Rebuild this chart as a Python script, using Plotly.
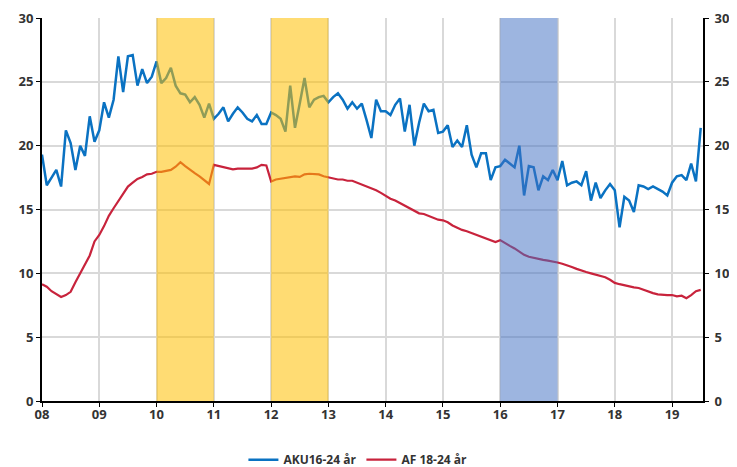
import plotly.graph_objects as go

start_year = 2008
aku_16_24 = [19.3, 16.9, 17.5, 18.1, 16.8, 21.2, 20.2, 18.1, 20.0, 19.2, 22.3, 20.3,
             21.2, 23.4, 22.2, 23.6, 27.0, 24.2, 27.0, 27.1, 24.7, 26.0, 24.9, 25.4,
             26.6, 24.9, 25.3, 26.1, 24.7, 24.1, 24.0, 23.4, 23.8, 23.2, 22.2, 23.3,
             22.1, 22.5, 23.0, 21.9, 22.5, 23.0, 22.6, 22.1, 21.9, 22.4, 21.7, 21.7,
             22.6, 22.4, 22.1, 21.1, 24.7, 21.4, 23.3, 25.3, 23.0, 23.6, 23.8, 23.9,
             23.4, 23.8, 24.1, 23.6, 22.9, 23.4, 22.9, 23.3, 22.0, 20.6, 23.6, 22.7,
             22.7, 22.4, 23.2, 23.7, 21.1, 23.2, 20.0, 21.8, 23.3, 22.7, 22.8, 21.0,
             21.1, 21.6, 19.9, 20.4, 19.9, 21.6, 19.3, 18.3, 19.4, 19.4, 17.3, 18.3,
             18.4, 18.9, 18.6, 18.3, 20.0, 16.1, 18.4, 18.3, 16.5, 17.6, 17.3, 18.1,
             17.3, 18.8, 16.9, 17.1, 17.2, 16.9, 18.0, 15.7, 17.1, 15.9, 16.5, 17.0,
             16.5, 13.6, 16.0, 15.7, 14.8, 16.9, 16.8, 16.6, 16.8, 16.6, 16.4, 16.1,
             17.1, 17.6, 17.7, 17.3, 18.6, 17.2, 21.4]
af_18_24 = [9.15, 8.95, 8.6, 8.35, 8.15, 8.3, 8.55, 9.3, 10.0, 10.6, 11.4, 12.5,
            13.0, 13.7, 14.5, 15.1, 15.7, 16.3, 16.8, 17.1, 17.4, 17.55, 17.75, 17.8,
            17.95, 17.95, 18.0, 18.1, 18.35, 18.7, 18.4, 18.1, 17.85, 17.6, 17.3, 17.0,
            18.5, 18.4, 18.3, 18.2, 18.15, 18.2, 18.2, 18.25, 18.2, 18.3, 18.5, 18.45,
            17.2, 17.35, 17.4, 17.5, 17.55, 17.6, 17.55, 17.75, 17.8, 17.8, 17.75, 17.6,
            17.5, 17.4, 17.35, 17.35, 17.25, 17.25, 17.1, 17.0, 16.8, 16.65, 16.5, 16.3,
            16.05, 15.85, 15.7, 15.5, 15.3, 15.1, 14.85, 14.7, 14.65, 14.5, 14.35, 14.2,
            14.15, 14.0, 13.75, 13.55, 13.4, 13.3, 13.15, 13.0, 12.85, 12.7, 12.55, 12.45,
            12.6, 12.35, 12.15, 11.95, 11.7, 11.45, 11.3, 11.2, 11.15, 11.05, 11.0, 10.95,
            10.85, 10.75, 10.65, 10.5, 10.35, 10.2, 10.1, 10.0, 9.9, 9.8, 9.7, 9.5,
            9.25, 9.15, 9.05, 9.0, 8.9, 8.85, 8.7, 8.6, 8.45, 8.35, 8.3, 8.3,
            8.3, 8.2, 8.25, 8.05, 8.3, 8.6, 8.7]
x_months = [start_year + i / 12 for i in range(len(aku_16_24))]

tick_years = list(range(2008, 2020))
tick_labels = ["08", "09", "10", "11", "12", "13", "14", "15", "16", "17", "18", "19"]
y_ticks = [0, 5, 10, 15, 20, 25, 30]

yellow_periods = [(2010, 2011), (2012, 2013)]
blue_periods = [(2016, 2017)]

fig = go.Figure()
fig.add_trace(go.Scatter(x=x_months, y=aku_16_24, mode="lines", name="AKU16-24 år",
                         line=dict(color="#0A72C2", width=2.5)))
fig.add_trace(go.Scatter(x=x_months, y=af_18_24, mode="lines", name="AF 18-24 år",
                         line=dict(color="#C8233C", width=2.2)))
fig.add_trace(go.Scatter(x=[None], y=[None], yaxis="y2", showlegend=False, hoverinfo="skip"))

for a, b in yellow_periods:
    fig.add_shape(type="rect", xref="x", yref="y", x0=a, x1=b, y0=0, y1=30,
                  fillcolor="rgba(255,192,0,0.55)", line_width=0, layer="above")
for a, b in blue_periods:
    fig.add_shape(type="rect", xref="x", yref="y", x0=a, x1=b, y0=0, y1=30,
                  fillcolor="rgba(68,114,196,0.52)", line_width=0, layer="above")

tickfont = dict(family="Open Sans, Liberation Sans, sans-serif", size=13, color="#333333", weight="bold")
fig.update_layout(
    width=729, height=459,
    margin=dict(l=34, r=34, t=10, b=66),
    plot_bgcolor="white", paper_bgcolor="white",
    showlegend=True,
    legend=dict(orientation="h", x=0.48, xanchor="center", xref="container",
                y=0.016, yanchor="middle", yref="container",
                font=dict(family="Open Sans, Liberation Sans, sans-serif", size=12, color="#333333", weight="bold"),
                itemwidth=30, tracegroupgap=0),
    xaxis=dict(range=[2008, 2019.54], tickmode="array", tickvals=tick_years, ticktext=tick_labels,
               showgrid=True, gridcolor="#D9D9D9", gridwidth=1.5, automargin=False,
               showline=True, linecolor="black", linewidth=2, ticklabelstandoff=-4,
               ticks="outside", ticklen=4, tickcolor="black", tickfont=tickfont, zeroline=False),
    yaxis=dict(range=[0, 30], tickvals=y_ticks, showgrid=True, gridcolor="#D9D9D9", gridwidth=1.5,
               showline=True, linecolor="black", linewidth=2, ticks="outside", ticklen=4, automargin=False,
               tickcolor="black", tickfont=tickfont, zeroline=False),
    yaxis2=dict(range=[0, 30], tickvals=y_ticks, overlaying="y", side="right", showgrid=False,
                showline=True, linecolor="black", linewidth=2, ticks="outside", ticklen=4, automargin=False,
                tickcolor="black", tickfont=tickfont, zeroline=False, ticklabelstandoff=3),
)

fig.write_html("out.html")
